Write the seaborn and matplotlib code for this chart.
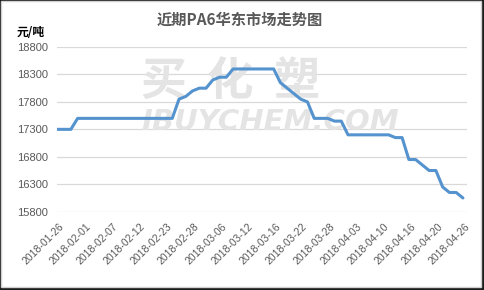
import matplotlib
matplotlib.use("Agg")
import matplotlib.pyplot as plt
import matplotlib.transforms as mtransforms
from matplotlib.patches import Rectangle
import seaborn as sns
import pandas as pd

# ---------------- data ----------------
dates = [
    "2018-01-26", "2018-01-29", "2018-01-30", "2018-01-31", "2018-02-01",
    "2018-02-02", "2018-02-05", "2018-02-06", "2018-02-07", "2018-02-08",
    "2018-02-09", "2018-02-11", "2018-02-12", "2018-02-13", "2018-02-14",
    "2018-02-22", "2018-02-23", "2018-02-24", "2018-02-26", "2018-02-27",
    "2018-02-28", "2018-03-01", "2018-03-02", "2018-03-05", "2018-03-06",
    "2018-03-07", "2018-03-08", "2018-03-09", "2018-03-12", "2018-03-13",
    "2018-03-14", "2018-03-15", "2018-03-16", "2018-03-19", "2018-03-20",
    "2018-03-21", "2018-03-22", "2018-03-23", "2018-03-26", "2018-03-27",
    "2018-03-28", "2018-03-29", "2018-03-30", "2018-04-02", "2018-04-03",
    "2018-04-04", "2018-04-08", "2018-04-09", "2018-04-10", "2018-04-11",
    "2018-04-12", "2018-04-13", "2018-04-16", "2018-04-17", "2018-04-18",
    "2018-04-19", "2018-04-20", "2018-04-23", "2018-04-24", "2018-04-25",
    "2018-04-26",
]
prices = [
    17300, 17300, 17300, 17500, 17500,
    17500, 17500, 17500, 17500, 17500,
    17500, 17500, 17500, 17500, 17500,
    17500, 17500, 17500, 17850, 17900,
    18000, 18050, 18050, 18200, 18250,
    18250, 18400, 18400, 18400, 18400,
    18400, 18400, 18400, 18150, 18050,
    17950, 17850, 17800, 17500, 17500,
    17500, 17450, 17450, 17200, 17200,
    17200, 17200, 17200, 17200, 17200,
    17150, 17150, 16750, 16750, 16650,
    16550, 16550, 16250, 16150, 16150,
    16050,
]
label_step = 4
y_ticks = [15800, 16300, 16800, 17300, 17800, 18300, 18800]
title = "近期PA6华东市场走势图"
unit_label = "元/吨"
watermark_cn = "买  化  塑"
watermark_en = "IBUYCHEM.COM"

# ---------------- style ----------------
sns.set_style("white")
plt.rcParams['font.family'] = ['Liberation Sans', 'Noto Sans CJK SC', 'DejaVu Sans']

W, H = 484, 290
fig = plt.figure(figsize=(W / 100, H / 100), dpi=100)
fig.patch.set_facecolor('#1c1c1c')
fig.patches.append(Rectangle((0.5 / W, 3 / H), 480 / W, 286.5 / H,
                             transform=fig.transFigure, facecolor='white',
                             edgecolor='#d0d0d0', lw=1.0, zorder=-10))

ax_left, ax_right, ax_top, ax_bottom = 57, 467, 47, 211.7
ax = fig.add_axes([ax_left / W, 1 - ax_bottom / H,
                   (ax_right - ax_left) / W, (ax_bottom - ax_top) / H])
ax.set_facecolor('none')

df = pd.DataFrame({"idx": range(len(dates)), "price": prices})
sns.lineplot(data=df, x="idx", y="price", ax=ax, color='#5593cf',
             linewidth=2.2, zorder=3)

ax.set_xlim(-0.05, len(dates) - 1 + 0.6)
ax.set_ylim(y_ticks[0], y_ticks[-1])
ax.set_yticks(y_ticks)
ax.set_yticklabels([str(v) for v in y_ticks])
tick_pos = list(range(0, len(dates), label_step))
ax.set_xticks(tick_pos)
ax.set_xticklabels([dates[i] for i in tick_pos], rotation=45, ha='right',
                   va='center', rotation_mode='anchor')
ax.set_xlabel("")
ax.set_ylabel("")
ax.yaxis.grid(True, color='#d9d9d9', lw=0.9)
ax.xaxis.grid(False)
ax.set_axisbelow(True)
for s in ax.spines.values():
    s.set_visible(False)
ax.tick_params(axis='y', length=0, pad=6.5, labelsize=8, labelcolor='#595959')
ax.tick_params(axis='x', length=0, pad=9.5, labelsize=7.5, labelcolor='#595959')
offset = mtransforms.ScaledTranslation(5 / 100, 0, fig.dpi_scale_trans)
for lbl in ax.get_xticklabels():
    lbl.set_transform(lbl.get_transform() + offset)

# watermark
ax.text(231 / W, 1 - 83 / H, watermark_cn, transform=fig.transFigure,
        ha='center', va='center', fontsize=33, fontweight='bold',
        color='#e4e4e4', family=['Noto Sans CJK SC'],
        zorder=1, clip_on=False)
ax.text(270 / W, 1 - 122 / H, watermark_en, transform=fig.transFigure,
        ha='center', va='center', fontsize=21, fontweight='bold',
        fontstyle='italic', color='#e4e4e4', family=['DejaVu Sans'],
        zorder=1, clip_on=False)

fig.text(240 / W, 1 - 20 / H, title, ha='center', va='center', fontsize=11,
         fontweight='bold', color='#595959',
         family=['Noto Sans CJK SC', 'DejaVu Sans'])
fig.text(17 / W, 1 - 32 / H, unit_label, ha='left', va='center', fontsize=8.5,
         fontweight='bold', color='black',
         family=['Noto Sans CJK SC', 'DejaVu Sans'])

fig.savefig("out.png", dpi=100, facecolor=fig.get_facecolor())
